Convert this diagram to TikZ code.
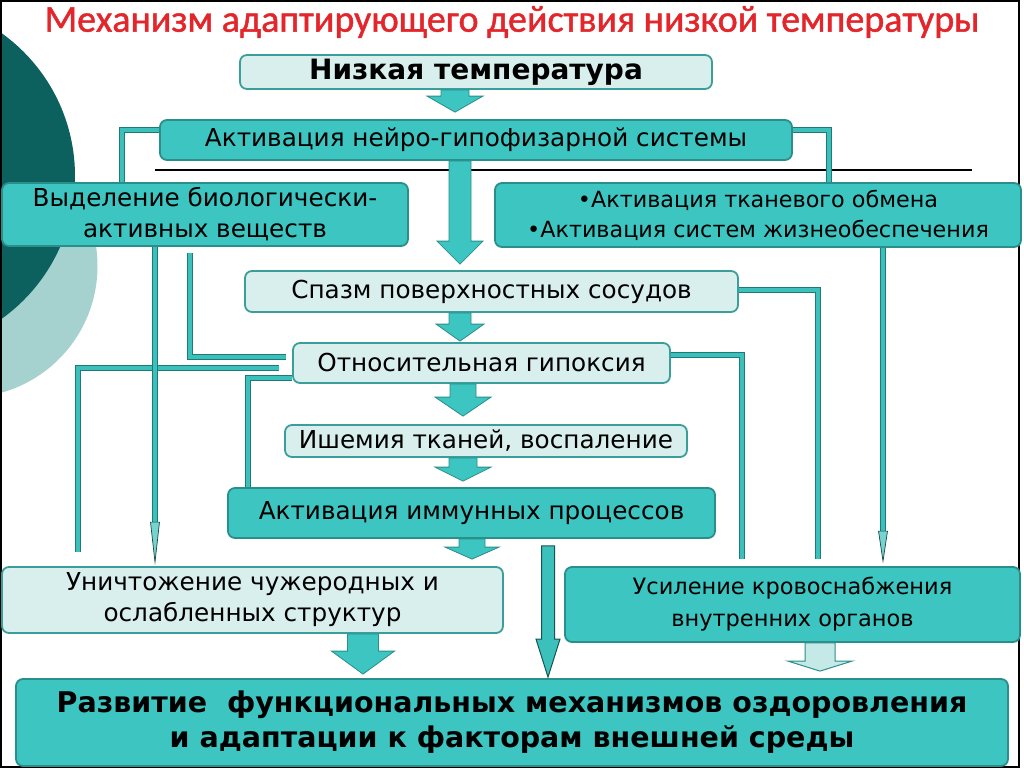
\documentclass[tikz,border=0pt]{standalone}
\usepackage{fontspec}
\setmainfont{DejaVu Sans}
\newfontfamily\titlefont[FakeBold=1.2]{Carlito}
\usetikzlibrary{calc}
\definecolor{tealF}{HTML}{3CC5C1}
\definecolor{tealD}{HTML}{2A8E8B}
\definecolor{lightF}{HTML}{D8EFED}
\definecolor{lightD}{HTML}{3A9E9A}
\definecolor{pipeF}{HTML}{3BC0BC}
\definecolor{pipeD}{HTML}{1F7A77}
\definecolor{circD}{HTML}{0C605D}
\definecolor{circL}{HTML}{A5D1CF}
\definecolor{titleR}{HTML}{E3262B}
\definecolor{arL}{HTML}{C4E9E7}
\newcommand\fsz[2]{\fontsize{#1}{#2}\selectfont}
% block arrow: [style]{start}{target}{gap}{shaft half width}{head half width}{head length}
\newcommand\barrow[7][]{%
  \draw[blockar,#1] let \p1=(#2), \p2=(#3) in
    (\x1-#5pt,\y1) -- (\x1+#5pt,\y1) -- (\x1+#5pt,\y2+#4pt+#7pt) -- (\x1+#6pt,\y2+#4pt+#7pt)
    -- (\x1,\y2+#4pt) -- (\x1-#6pt,\y2+#4pt+#7pt) -- (\x1-#5pt,\y2+#4pt+#7pt) -- cycle;}
% thin arrow: {start}{target}{gap}{head length}
\newcommand\tarrow[4]{%
  \draw[pipe] let \p1=(#1), \p2=(#2) in (\x1,\y1) -- (\x1,\y2+#3pt+#4pt-1pt);
  \draw[thinhead] let \p1=(#1), \p2=(#2) in
    (\x1-4.5pt,\y2+#3pt+#4pt) -- (\x1+4.5pt,\y2+#3pt+#4pt) -- (\x1,\y2+#3pt) -- cycle;}
\begin{document}
\begin{tikzpicture}[x=1pt,y=-1pt,
  tbox/.style={draw=tealD, fill=tealF, rounded corners=7pt, line width=1.8pt, inner sep=0pt, align=center, text=black},
  lbox/.style={draw=lightD, fill=lightF, rounded corners=7pt, line width=1.8pt, inner sep=0pt, align=center, text=black},
  blockar/.style={draw=tealD, fill=tealF, line width=0.8pt, line join=miter},
  lightar/.style={draw=tealD, fill=arL, line width=1pt},
  darkar/.style={draw=pipeD!70!black, fill=pipeF, line width=1pt},
  pipe/.style={draw=pipeD, line width=0.9pt, double=pipeF, double distance=3.8pt},
  thinhead/.style={draw=pipeD!60!black, fill=pipeF!70!white, line width=0.7pt},
  txt/.style={font=\fsz{24.7}{31}},
]
\useasboundingbox (0,0) rectangle (1024,768);
\begin{scope}
  \clip (0,0) rectangle (1024,768);
  \fill[circL] (-34,266) circle[radius=131.5pt];
  \fill[circD] (-100.7,176) circle[radius=175.7pt];
\end{scope}
\draw[black, line width=2pt] (1,1) rectangle (1019,767);

% title
\node[text=titleR, font=\titlefont\fsz{38}{40}] (title) at (512,22) {Механизм адаптирующего действия низкой температуры};

% rule
\draw[black, line width=1.3pt] (155,170) -- (972,170);

% boxes
\node[lbox, minimum width=472pt, minimum height=34pt, font=\bfseries\fsz{28}{32}] (low) at (476,72) {Низкая температура};
\node[tbox, minimum width=632pt, minimum height=40pt, txt] (act) at (476,140) {Активация нейро-гипофизарной системы};
\node[tbox, minimum width=406pt, minimum height=63pt, txt] (vyd) at (205,214.5) {Выделение биологически-\\активных веществ};
\node[tbox, minimum width=526pt, minimum height=64pt, font=\fsz{22.3}{30}] (tkan) at (758,215) {•Активация тканевого обмена\\•Активация систем жизнеобеспечения};
\node[lbox, minimum width=493pt, minimum height=41pt, txt] (spazm) at (491.5,291.5) {Спазм поверхностных сосудов};
\node[lbox, minimum width=377pt, minimum height=40pt, txt] (otn) at (481.5,363) {Относительная гипоксия};
\node[lbox, minimum width=402pt, minimum height=32pt, txt] (ishem) at (486,441) {Ишемия тканей, воспаление};
\node[tbox, minimum width=487pt, minimum height=50pt, txt] (immun) at (471.5,513) {Активация иммунных процессов};
\node[lbox, minimum width=501pt, minimum height=66pt, txt] (unich) at (252.5,600) {Уничтожение чужеродных и\\ослабленных структур};
\node[tbox, minimum width=455pt, minimum height=75pt, font=\fsz{22.5}{32}] (usil) at (792.5,604.5) {Усиление кровоснабжения\\внутренних органов};
\node[tbox, minimum width=992pt, minimum height=87pt, font=\bfseries\fsz{28.5}{35}] (razv) at (512,722.5) {Развитие\ \ функциональных механизмов оздоровления\\и адаптации к факторам внешней среды};

% pipes
\draw[pipe] ([yshift=10pt]act.west) -| ([xshift=-83pt]vyd.north);
\draw[pipe] ([yshift=10pt]act.east) -| ([xshift=71pt]tkan.north);
\draw[pipe] ([xshift=-15pt,yshift=-6pt]vyd.south) |- ([xshift=-6pt,yshift=6pt]otn.west);
\draw[pipe] ([xshift=-13pt,yshift=-5pt]otn.west) -| ([xshift=-174.5pt,yshift=14pt]unich.north);
\draw[pipe] ([yshift=-15pt]otn.west) -| ([xshift=-223.5pt]immun.north);
\draw[pipe] ([yshift=8pt]otn.east) -| ([xshift=-50.5pt,yshift=7pt]usil.north);
\draw[pipe] ([yshift=1.5pt]spazm.east) -| ([xshift=25.5pt,yshift=7pt]usil.north);

% thin arrows
\tarrow{[xshift=-50pt]vyd.south}{unich.north}{4}{40}
\tarrow{[xshift=125pt]tkan.south}{usil.north}{5}{30}

% block arrows
\barrow{[xshift=-21pt]low.south}{act.north}{7}{14}{28}{16}
\barrow{[xshift=-16pt]act.south}{spazm.north}{6}{11}{23}{23}
\barrow{[xshift=-31.5pt]spazm.south}{otn.north}{1}{11}{24}{17}
\barrow{[xshift=-18.5pt]otn.south}{ishem.north}{8}{13}{28}{19}
\barrow{[xshift=-23pt]ishem.south}{immun.north}{6}{14}{28}{14}
\barrow{[xshift=0.5pt]immun.south}{unich.north}{7}{13}{27}{12}
\barrow{[xshift=110.5pt]unich.south}{razv.north}{4}{15.5}{31.5}{23}
\barrow[lightar]{[xshift=27.5pt]usil.south}{razv.north}{7}{15}{32}{10}
\barrow[darkar]{[xshift=76.5pt,yshift=-7pt]immun.south}{razv.north}{1}{6.5}{12}{38}
\end{tikzpicture}
\end{document}
